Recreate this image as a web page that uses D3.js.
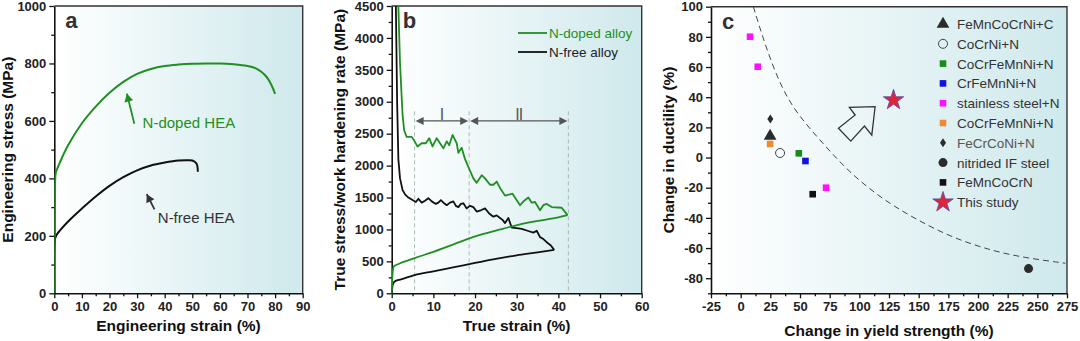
<!DOCTYPE html>
<html><head><meta charset="utf-8">
<script src="https://cdn.jsdelivr.net/npm/d3@7"></script>
<style>
body{margin:0;background:#fff;}
svg{display:block;font-family:Arial,"Liberation Sans",sans-serif;}
</style></head><body>
<svg id="chart" width="1080" height="341"></svg>
<script>
// ---------- DATA ----------
// Panel a: engineering stress-strain
const aDopedStrain = [0,0.2,0.5,1,2,5,10,15,20,25,30,35,40,45,50,55,60,65,70,73,75,77,78,79,80];
const aDopedStress = [0,300,418,432,455,515,592,650,698,736,764,781,791,796,799,800,800,797,791,783,771,752,737,718,694];
const aFreeStrain = [0,0.2,0.8,2,5,10,15,20,25,30,35,40,45,48,50,51.5,52];
const aFreeStress = [0,186,203,218,250,295,337,374,404,428,445,455,462,463,462,452,423];
const aXTicks = [0,10,20,30,40,50,60,70,80,90];
const aYTicks = [0,200,400,600,800,1000];

// Panel b: true stress & work hardening rate
const bDopedHardStrain = [1.6,2.0,2.6,3.0,3.6,4.8,5.5,6.2,7.2,8.2,9.0,9.8,10.8,11.6,12.4,13.2,13.8,14.6,15.6,16.0,16.8,17.6,18.6,19.6,20.4,21.6,22.4,23.6,24.4,25.2,26.0,27.2,29.0,30.8,31.8,32.8,33.6,34.4,35.6,36.4,37.2,38.4,40.8,42.2];
const bDopedHardRate = [4500,3600,2800,2550,2450,2450,2380,2300,2350,2350,2430,2300,2430,2350,2270,2380,2320,2480,2350,2200,2280,2100,1950,1800,1730,1850,1800,1700,1700,1750,1650,1530,1560,1380,1450,1500,1420,1430,1300,1380,1400,1350,1340,1225];
const bFreeHardStrain = [1.0,1.3,1.6,2.0,2.6,3.2,4.0,5.0,5.8,6.4,7.2,8.0,8.8,9.6,10.6,11.2,11.8,12.6,13.2,14.0,14.8,15.4,16.0,16.6,17.2,18.0,18.8,19.6,20.4,21.4,22.4,23.4,24.4,25.2,26.0,26.6,27.2,28.0,28.8,30.0,31.2,32.6,34.0,34.8,35.6,36.4,37.2,38.2,39.0];
const bFreeHardRate = [4500,3000,2100,1800,1620,1550,1500,1460,1430,1480,1420,1450,1490,1440,1400,1420,1460,1410,1380,1420,1440,1370,1350,1400,1410,1330,1370,1350,1280,1300,1330,1250,1200,1220,1180,1150,1100,1180,1030,1020,1010,980,950,980,880,850,800,750,680];
const bDopedStressStrain = [0,0.2,0.5,1.5,5.5,10,15,18.6,22,26,29.2,33,37,40,42.2];
const bDopedStress = [0,300,420,455,550,650,770,860,930,1000,1054,1110,1155,1190,1225];
const bFreeStressStrain = [0,0.2,0.5,1,2,5.5,10,15,20,25,30,35,39];
const bFreeStress = [0,120,170,195,215,285,345,410,475,540,595,640,680];
const bStageBounds = [5.5, 18.6, 42.4];
const bStageLabels = ["I","II"];
const bXTicks = [0,10,20,30,40,50,60];
const bYTicks = [0,500,1000,1500,2000,2500,3000,3500,4000,4500];

// Panel c: change in ductility vs yield strength
const cLabels = ["FeMnCoCrNi+C","CoCrNi+N","CoCrFeMnNi+N","CrFeMnNi+N","stainless steel+N","CoCrFeMnNi+N","FeCrCoNi+N","nitrided IF steel","FeMnCoCrN","This study"];
const cShapes = ["triangle","openCircle","square","square","square","square","diamond","circle","square","star"];
const cColors = ["#2b2b2b","#444","#1a8a1a","#1010e0","#ff10ff","#f08a30","#2b2b2b","#2b2b2b","#111","#e0243a"];
const cYield = [[24.8],[33.2],[49],[54.6],[7.9,14.4,72],[24.8],[25],[242.6],[60.7],[128.8]];
const cDuct  = [[14.3],[3],[2.8],[-2.3],[80.1,60.2,-20],[9],[25.5],[-73.6],[-24.3],[38.1]];
const cCurveX = [10.7,20,33.2,47.3,69.7,92.2,120.3,148.5,176.6,204.7,232.8,273.6];
const cCurveY = [100,76,48,29,9,-10.4,-28.1,-41.3,-52.4,-60.1,-65.7,-70.1];
const cArrowX = [113.3,110.5,104.3,92.8,82.4,96.5,91.6];
const cArrowY = [33.7,14.9,20.9,10.9,19.4,28.2,33.3];
const cXTicks = [-25,0,25,50,75,100,125,150,175,200,225,250,275];
const cYTicks = [-80,-60,-40,-20,0,20,40,60,80,100];

// ---------- DRAW ----------
const svg = d3.select("#chart");
const GREEN = "#1f8f22", BLACK = "#111";
const defs = svg.append("defs");
const grad = defs.append("linearGradient").attr("id","bg").attr("x1","0").attr("x2","1").attr("y1","0").attr("y2","0");
grad.append("stop").attr("offset","0%").attr("stop-color","#ffffff");
grad.append("stop").attr("offset","100%").attr("stop-color","#cfe9ec");

function panel(opts){
  const {id,left,right,top,bottom,xDom,yDom,xTicks,yTicks,xMinor,yMinor,xTitle,yTitle,yTitleX,xTitleY,letter} = opts;
  const x = d3.scaleLinear().domain(xDom).range([left,right]);
  const y = d3.scaleLinear().domain(yDom).range([bottom,top]);
  const g = svg.append("g");
  defs.append("clipPath").attr("id","clip"+id).append("rect")
    .attr("x",left).attr("y",top).attr("width",right-left).attr("height",bottom-top);
  g.append("rect").attr("x",left).attr("y",top).attr("width",right-left).attr("height",bottom-top)
    .attr("fill","url(#bg)");
  const fmt = d=>String(d);
  const minorX = d3.axisBottom(x).tickValues(xMinor).tickSize(3).tickFormat("");
  const minorY = d3.axisLeft(y).tickValues(yMinor).tickSize(3).tickFormat("");
  g.append("g").attr("transform",`translate(0,${bottom})`).call(minorX).call(s=>s.select(".domain").remove());
  g.append("g").attr("transform",`translate(${left},0)`).call(minorY).call(s=>s.select(".domain").remove());
  const xa = g.append("g").attr("transform",`translate(0,${bottom})`)
    .call(d3.axisBottom(x).tickValues(xTicks).tickFormat(fmt).tickSize(5).tickSizeOuter(0).tickPadding(3));
  const ya = g.append("g").attr("transform",`translate(${left},0)`)
    .call(d3.axisLeft(y).tickValues(yTicks).tickFormat(fmt).tickSize(5).tickSizeOuter(0).tickPadding(3));
  [xa,ya].forEach(a=>{
    a.selectAll("text").attr("font-size",13).attr("font-weight","bold").attr("fill","#222")
      .attr("font-family","Arial,'Liberation Sans',sans-serif");
    a.select(".domain").attr("stroke","#111").attr("stroke-width",1.6);
  });
  g.selectAll(".tick line").attr("stroke","#111").attr("stroke-width",1.3);
  g.append("path").attr("d",`M${left},${top}H${right}V${bottom}`).attr("fill","none")
    .attr("stroke","#333").attr("stroke-width",1.4);
  g.append("text").attr("x",(left+right)/2).attr("y",xTitleY).attr("text-anchor","middle")
    .attr("font-size",15.5).attr("font-weight","bold").attr("fill","#111").text(xTitle);
  g.append("text").attr("transform",`translate(${yTitleX},${(top+bottom)/2}) rotate(-90)`)
    .attr("text-anchor","middle").attr("font-size",15.5).attr("font-weight","bold").attr("fill","#111").text(yTitle);
  g.append("text").attr("x",left+11).attr("y",top+22).attr("font-size",22).attr("font-weight","bold")
    .attr("fill","#333").text(letter);
  const plot = g.append("g").attr("clip-path",`url(#clip${id})`);
  return {x,y,g,plot};
}

function range(a,b,s){const r=[];for(let v=a;v<=b+1e-9;v+=s)r.push(+v.toFixed(4));return r;}

// Panel a
const A = panel({id:"a",left:54.3,right:302.7,top:6,bottom:293.3,xDom:[0,90],yDom:[0,1000],
  xTicks:aXTicks,yTicks:aYTicks,xMinor:range(5,85,10),yMinor:range(100,900,200),
  xTitle:"Engineering strain (%)",yTitle:"Engineering stress (MPa)",yTitleX:13,xTitleY:331,letter:"a"});
const lineA = d3.line().curve(d3.curveCatmullRom);
A.plot.append("path").attr("d",lineA(aFreeStrain.map((v,i)=>[A.x(v),A.y(aFreeStress[i])])))
  .attr("fill","none").attr("stroke",BLACK).attr("stroke-width",2);
A.plot.append("path").attr("d",lineA(aDopedStrain.map((v,i)=>[A.x(v),A.y(aDopedStress[i])])))
  .attr("fill","none").attr("stroke",GREEN).attr("stroke-width",2);
function arrow(g,x1,y1,x2,y2,color){
  g.append("line").attr("x1",x1).attr("y1",y1).attr("x2",x2).attr("y2",y2).attr("stroke",color).attr("stroke-width",1.8);
  const ang=Math.atan2(y2-y1,x2-x1), L=8, W=4.5;
  const bx=x2-L*Math.cos(ang), by=y2-L*Math.sin(ang);
  const p=[[x2,y2],[bx+W*Math.sin(ang),by-W*Math.cos(ang)],[bx-W*Math.sin(ang),by+W*Math.cos(ang)]];
  g.append("path").attr("d","M"+p.join("L")+"Z").attr("fill",color);
}
arrow(A.g,A.x(29),A.y(590),A.x(26.3),A.y(695),GREEN);
A.g.append("text").attr("x",A.x(32)).attr("y",A.y(575)).attr("font-size",15).attr("fill",GREEN).text("N-doped HEA");
arrow(A.g,A.x(36.3),A.y(292),A.x(33.5),A.y(345),"#333");
A.g.append("text").attr("x",A.x(37.5)).attr("y",A.y(244)).attr("font-size",15).attr("fill","#333").text("N-free HEA");

// Panel b
const B = panel({id:"b",left:391.7,right:641.7,top:6,bottom:293.3,xDom:[0,60],yDom:[0,4500],
  xTicks:bXTicks,yTicks:bYTicks,xMinor:range(5,55,10),yMinor:range(250,4250,500),
  xTitle:"True strain (%)",yTitle:"True stress/work hardening rate (MPa)",yTitleX:345,xTitleY:331,letter:"b"});
bStageBounds.forEach(v=>{
  B.plot.append("line").attr("x1",B.x(v)).attr("x2",B.x(v)).attr("y1",B.y(2850)).attr("y2",B.y(0))
    .attr("stroke","#9aa").attr("stroke-width",0.8).attr("stroke-dasharray","4,3");
});
const lineB = d3.line();
const lineBs = d3.line().curve(d3.curveMonotoneX);
B.plot.append("path").attr("d",lineB(bFreeHardStrain.map((v,i)=>[B.x(v),B.y(bFreeHardRate[i])])))
  .attr("fill","none").attr("stroke",BLACK).attr("stroke-width",1.8).attr("stroke-linejoin","round");
B.plot.append("path").attr("d",lineBs(bFreeStressStrain.map((v,i)=>[B.x(v),B.y(bFreeStress[i])])))
  .attr("fill","none").attr("stroke",BLACK).attr("stroke-width",1.8);
B.plot.append("path").attr("d",lineB(bDopedHardStrain.map((v,i)=>[B.x(v),B.y(bDopedHardRate[i])])))
  .attr("fill","none").attr("stroke",GREEN).attr("stroke-width",1.8).attr("stroke-linejoin","round");
B.plot.append("path").attr("d",lineBs(bDopedStressStrain.map((v,i)=>[B.x(v),B.y(bDopedStress[i])])))
  .attr("fill","none").attr("stroke",GREEN).attr("stroke-width",1.8);
function dblArrow(g,x1,x2,yy,color){
  g.append("line").attr("x1",x1+6).attr("x2",x2-6).attr("y1",yy).attr("y2",yy).attr("stroke",color).attr("stroke-width",1.3);
  g.append("path").attr("d",`M${x1},${yy}L${x1+8},${yy-4}L${x1+8},${yy+4}Z`).attr("fill",color);
  g.append("path").attr("d",`M${x2},${yy}L${x2-8},${yy-4}L${x2-8},${yy+4}Z`).attr("fill",color);
}
for(let i=0;i<2;i++){
  const x1=B.x(bStageBounds[i])+1, x2=B.x(bStageBounds[i+1])-1;
  dblArrow(B.g,x1,x2,B.y(2700),"#555");
  B.g.append("text").attr("x",(x1+x2)/2).attr("y",B.y(2700)-1).attr("text-anchor","middle")
    .attr("font-size",15).attr("fill","#555").attr("font-family","'DejaVu Sans',sans-serif")
    .attr("letter-spacing",i===1?"-1":"0").text(bStageLabels[i]);
}
const bLeg=[["N-doped alloy",GREEN,GREEN],["N-free alloy","#222",BLACK]];
bLeg.forEach((d,i)=>{
  const yy=33+i*19;
  B.g.append("line").attr("x1",518).attr("x2",547).attr("y1",yy).attr("y2",yy).attr("stroke",d[2]).attr("stroke-width",1.8);
  B.g.append("text").attr("x",549).attr("y",yy+5).attr("font-size",13.5).attr("fill",d[1]).text(d[0]);
});

// Panel c
const C = panel({id:"c",left:711,right:1067,top:6.7,bottom:293.3,xDom:[-25,275],yDom:[-90,100],
  xTicks:cXTicks,yTicks:cYTicks,xMinor:range(-12.5,262.5,25),yMinor:range(-90,90,20),
  xTitle:"Change in yield strength (%)",yTitle:"Change in ductility (%)",yTitleX:674,xTitleY:336,letter:"c"});
C.plot.append("path").attr("d",d3.line().curve(d3.curveBasis)(cCurveX.map((v,i)=>[C.x(v),C.y(cCurveY[i])])))
  .attr("fill","none").attr("stroke","#444").attr("stroke-width",1).attr("stroke-dasharray","6,4");
C.plot.append("path").attr("d","M"+cArrowX.map((v,i)=>[C.x(v),C.y(cArrowY[i])]).join("L")+"Z")
  .attr("fill","none").attr("stroke","#333").attr("stroke-width",1.3).attr("stroke-linejoin","miter");
function marker(g,shape,color,cx,cy,scale){
  scale=scale||1;
  if(shape==="square") g.append("rect").attr("x",cx-3.3*scale).attr("y",cy-3.3*scale).attr("width",6.6*scale).attr("height",6.6*scale).attr("fill",color);
  else if(shape==="openCircle") g.append("circle").attr("cx",cx).attr("cy",cy).attr("r",4.5*scale).attr("fill","none").attr("stroke",color).attr("stroke-width",1);
  else if(shape==="circle") g.append("circle").attr("cx",cx).attr("cy",cy).attr("r",4.5*scale).attr("fill",color);
  else if(shape==="triangle") g.append("path").attr("transform",`translate(${cx},${cy})`).attr("d",d3.symbol(d3.symbolTriangle,70*scale*scale)()).attr("fill",color);
  else if(shape==="diamond") g.append("path").attr("transform",`translate(${cx},${cy})`).attr("d",`M0,${-4.5*scale}L${3*scale},0L0,${4.5*scale}L${-3*scale},0Z`).attr("fill",color);
  else if(shape==="star") g.append("path").attr("transform",`translate(${cx},${cy})`).attr("d",d3.symbol(d3.symbolStar,130*scale*scale)()).attr("fill",color).attr("stroke","#5a4aa0").attr("stroke-width",0.8);
}
cLabels.forEach((lab,i)=>{
  cYield[i].forEach((v,j)=>marker(C.plot,cShapes[i],cColors[i],C.x(v),C.y(cDuct[i][j])));
  const yy=24+i*19.8;
  marker(C.g,cShapes[i],cColors[i],943,yy);
  C.g.append("text").attr("x",957).attr("y",yy+5).attr("font-size",13.5)
    .attr("fill",i===6?"#555":"#333").text(lab);
});
</script>
</body></html>
